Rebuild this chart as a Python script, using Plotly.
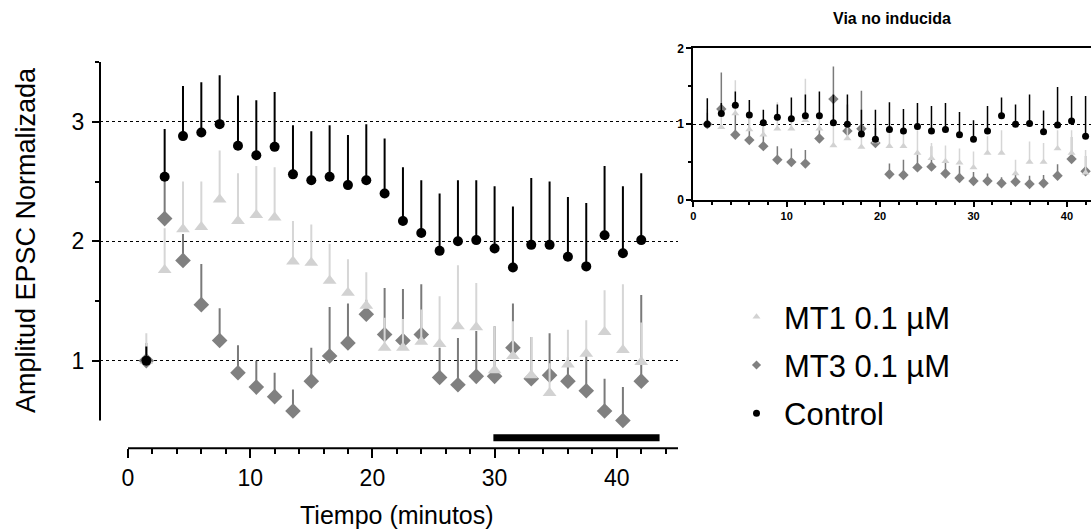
import plotly.graph_objects as go

# ---------------- data ----------------
tiempo = [1.5, 3.0, 4.5, 6.0, 7.5, 9.0, 10.5, 12.0, 13.5, 15.0, 16.5, 18.0, 19.5, 21.0,
          22.5, 24.0, 25.5, 27.0, 28.5, 30.0, 31.5, 33.0, 34.5, 36.0, 37.5, 39.0, 40.5, 42.0]

# Main panel (inducida)
control = [1.00, 2.54, 2.88, 2.91, 2.98, 2.80, 2.72, 2.79, 2.56, 2.51, 2.54, 2.47, 2.51, 2.40,
           2.17, 2.07, 1.92, 2.00, 2.01, 1.94, 1.78, 1.97, 1.97, 1.87, 1.79, 2.05, 1.90, 2.01]
control_err = [0.12, 0.40, 0.42, 0.42, 0.41, 0.42, 0.46, 0.46, 0.41, 0.41, 0.43, 0.42, 0.47, 0.46,
               0.45, 0.44, 0.48, 0.51, 0.50, 0.52, 0.51, 0.56, 0.53, 0.50, 0.53, 0.58, 0.56, 0.56]
mt1 = [1.00, 1.76, 2.10, 2.12, 2.35, 2.17, 2.22, 2.20, 1.83, 1.82, 1.67, 1.57, 1.46, 1.11,
       1.11, 1.16, 1.14, 1.29, 1.28, 0.92, 1.04, 0.88, 0.73, 0.97, 1.06, 1.24, 1.09, 0.99]
mt1_err = [0.23, 0.35, 0.40, 0.38, 0.41, 0.40, 0.41, 0.42, 0.34, 0.32, 0.31, 0.28, 0.28, 0.25,
           0.24, 0.27, 0.40, 0.51, 0.37, 0.37, 0.29, 0.32, 0.25, 0.29, 0.28, 0.35, 0.55, 0.33]
mt3 = [1.00, 2.19, 1.84, 1.47, 1.17, 0.90, 0.78, 0.70, 0.58, 0.83, 1.04, 1.15, 1.39, 1.22,
       1.17, 1.22, 0.86, 0.80, 0.87, 0.87, 1.11, 0.85, 0.88, 0.83, 0.75, 0.58, 0.50, 0.83]
mt3_err = [0.15, 0.35, 0.22, 0.34, 0.27, 0.23, 0.22, 0.20, 0.18, 0.28, 0.41, 0.33, 0.12, 0.39,
           0.43, 0.42, 0.25, 0.39, 0.38, 0.42, 0.37, 0.35, 0.35, 0.20, 0.30, 0.27, 0.28, 0.72]

# Inset (Via no inducida)
control_ni = [1.00, 1.14, 1.25, 1.12, 1.02, 1.09, 1.07, 1.11, 1.11, 1.02, 1.00, 0.87, 0.80, 0.93,
              0.91, 0.97, 0.91, 0.93, 0.86, 0.80, 0.91, 1.11, 1.00, 1.01, 0.90, 0.99, 1.04, 0.84]
control_ni_err = [0.34, 0.14, 0.18, 0.20, 0.17, 0.17, 0.28, 0.28, 0.32, 0.37, 0.39, 0.32, 0.39, 0.36,
                  0.29, 0.31, 0.33, 0.35, 0.30, 0.25, 0.33, 0.24, 0.26, 0.38, 0.28, 0.50, 0.33, 0.53]
mt1_ni = [1.00, 0.96, 1.14, 0.93, 0.86, 0.94, 0.94, 1.05, 0.94, 0.72, 0.81, 0.70, 0.77, 0.71,
          0.71, 0.62, 0.55, 0.51, 0.49, 0.43, 0.62, 0.62, 0.35, 0.50, 0.50, 0.68, 0.62, 0.36]
mt1_ni_err = [0.20, 0.20, 0.44, 0.20, 0.15, 0.35, 0.20, 0.55, 0.20, 0.40, 0.30, 0.30, 0.20, 0.21,
              0.20, 0.30, 0.20, 0.21, 0.19, 0.21, 0.22, 0.30, 0.18, 0.27, 0.25, 0.24, 0.30, 0.30]
mt3_ni = [1.00, 1.20, 0.86, 0.79, 0.71, 0.53, 0.50, 0.48, 0.81, 1.33, 0.91, 0.94, 0.75, 0.34,
          0.33, 0.43, 0.44, 0.35, 0.29, 0.25, 0.25, 0.22, 0.24, 0.21, 0.22, 0.32, 0.54, 0.38]
mt3_ni_err = [0.15, 0.48, 0.30, 0.30, 0.25, 0.18, 0.18, 0.18, 0.15, 0.43, 0.35, 0.50, 0.20, 0.14,
              0.20, 0.17, 0.27, 0.15, 0.16, 0.12, 0.10, 0.08, 0.11, 0.11, 0.11, 0.15, 0.29, 0.20]

series_names = ["MT1 0.1 \u00b5M", "MT3 0.1 \u00b5M", "Control"]
main_xticks = [0, 10, 20, 30, 40]
main_xminor = list(range(0, 45, 2))
main_yticks = [1, 2, 3]
main_yminor = [1.5, 2.5, 3.5]
inset_xticks = [0, 10, 20, 30, 40]
inset_xminor = list(range(0, 43, 2))
inset_yticks = [0, 1, 2]
inset_yminor = [0.5, 1.5]
bar_start, bar_end = 29.9, 43.5   # drug application (minutes)

# ---------------- styles ----------------
W, H = 1091, 531
FONT = "Arial, 'Liberation Sans', sans-serif"
C_CTRL = "#000000"
C_MT3 = "#808080"
C_MT3_ERR = "#7a7a7a"
C_MT1 = "#d2d2d2"
C_MT1_ERR = "#d6d6d6"


def px_x(p):
    return p / W


def px_y(p):
    return (H - p) / H


def err(arr, color, thick):
    return dict(type="data", symmetric=False, array=arr, arrayminus=[0] * len(arr),
                width=0, thickness=thick, color=color, visible=True)


fig = go.Figure()

# main panel: MT3 below, MT1 above, Control on top
fig.add_trace(go.Scatter(x=tiempo, y=mt3, mode="markers", name=series_names[1], showlegend=False,
                         marker=dict(symbol="diamond", size=12, color=C_MT3, line=dict(width=0)),
                         error_y=err(mt3_err, C_MT3_ERR, 2), xaxis="x", yaxis="y", cliponaxis=False))
fig.add_trace(go.Scatter(x=tiempo, y=mt1, mode="markers", name=series_names[0], showlegend=False,
                         marker=dict(symbol="triangle-up", size=12, color=C_MT1, line=dict(width=0)),
                         error_y=err(mt1_err, C_MT1_ERR, 2), xaxis="x", yaxis="y", cliponaxis=False))
fig.add_trace(go.Scatter(x=tiempo, y=control, mode="markers", name=series_names[2], showlegend=False,
                         marker=dict(symbol="circle", size=10, color=C_CTRL, line=dict(width=0)),
                         error_y=err(control_err, C_CTRL, 2), xaxis="x", yaxis="y", cliponaxis=False))

# inset
fig.add_trace(go.Scatter(x=tiempo, y=mt3_ni, mode="markers", showlegend=False,
                         marker=dict(symbol="diamond", size=8, color=C_MT3, line=dict(width=0)),
                         error_y=err(mt3_ni_err, C_MT3_ERR, 1.5), xaxis="x2", yaxis="y2", cliponaxis=False))
fig.add_trace(go.Scatter(x=tiempo, y=mt1_ni, mode="markers", showlegend=False,
                         marker=dict(symbol="triangle-up", size=7, color=C_MT1, line=dict(width=0)),
                         error_y=err(mt1_ni_err, C_MT1_ERR, 1.5), xaxis="x2", yaxis="y2", cliponaxis=False))
fig.add_trace(go.Scatter(x=tiempo, y=control_ni, mode="markers", showlegend=False,
                         marker=dict(symbol="circle", size=7, color=C_CTRL, line=dict(width=0)),
                         error_y=err(control_ni_err, C_CTRL, 1.5), xaxis="x2", yaxis="y2", cliponaxis=False))

# legend-only entries
leg_specs = [(series_names[0], "triangle-up", C_MT1), (series_names[1], "diamond", C_MT3),
             (series_names[2], "circle", C_CTRL)]
for i, (nm, sym, col) in enumerate(leg_specs):
    fig.add_trace(go.Scatter(x=[None], y=[None], mode="markers", name=nm, legendgroup=nm,
                             legendrank=i + 1,
                             marker=dict(symbol=sym, size=7, color=col, line=dict(width=0)),
                             xaxis="x", yaxis="y"))

fig.update_layout(
    width=W, height=H, autosize=False,
    margin=dict(l=0, r=0, t=0, b=0, pad=0, autoexpand=False),
    paper_bgcolor="white", plot_bgcolor="white",
    font=dict(family=FONT, color="black"),
    showlegend=True,
    legend=dict(x=px_x(729), y=px_y(290), xanchor="left", yanchor="top",
                font=dict(size=31, family=FONT, color="black"),
                tracegroupgap=5, bgcolor="rgba(0,0,0,0)", borderwidth=0,
                itemsizing="trace", itemwidth=45),
    xaxis=dict(domain=[px_x(100), px_x(678)], range=[(100 - 128) / 12.22, (678 - 128) / 12.22],
               showline=False, zeroline=False, showgrid=False, automargin=False,
               tickmode="array", tickvals=main_xticks, ticks="outside", ticklen=9, tickwidth=2,
               tickcolor="black", tickfont=dict(size=23, family=FONT, color="black"),
               minor=dict(tickmode="array", tickvals=main_xminor, ticks="outside", ticklen=5,
                          tickwidth=2, tickcolor="black", showgrid=False),
               anchor="y", fixedrange=True),
    yaxis=dict(domain=[px_y(448.3), px_y(62)], range=[0.268, 3.5],
               showline=False, zeroline=False, showgrid=True, griddash="dot",
               gridcolor="black", gridwidth=1.2, automargin=False,
               tickmode="array", tickvals=main_yticks, ticks="outside", ticklen=7, tickwidth=2,
               tickcolor="black", tickfont=dict(size=23, family=FONT, color="black"),
               ticklabelstandoff=3,
               minor=dict(tickmode="array", tickvals=main_yminor, ticks="outside", ticklen=4,
                          tickwidth=2, tickcolor="black", showgrid=False),
               anchor="x", fixedrange=True),
    xaxis2=dict(domain=[px_x(693.3), 1.0], range=[0, (W - 693.3) / 9.34],
                showline=True, linecolor="black", linewidth=2, mirror=True,
                zeroline=False, showgrid=False, automargin=False,
                tickmode="array", tickvals=inset_xticks, ticks="outside", ticklen=5, tickwidth=1.5,
                tickcolor="black", tickfont=dict(size=11, family=FONT, color="black", weight="bold"),
                minor=dict(tickmode="array", tickvals=inset_xminor, ticks="outside", ticklen=3,
                           tickwidth=1.5, tickcolor="black", showgrid=False),
                anchor="y2", fixedrange=True),
    yaxis2=dict(domain=[px_y(200), px_y(48.3)], range=[0, 2],
                showline=True, linecolor="black", linewidth=2,
                zeroline=False, showgrid=True, griddash="dot", gridcolor="black", gridwidth=1.2,
                automargin=False,
                tickmode="array", tickvals=inset_yticks, ticks="outside", ticklen=5, tickwidth=1.5,
                tickcolor="black", tickfont=dict(size=12, family=FONT, color="black", weight="bold"),
                minor=dict(tickmode="array", tickvals=inset_yminor, ticks="outside", ticklen=3,
                           tickwidth=1.5, tickcolor="black", showgrid=False),
                anchor="x2", fixedrange=True),
)

# axis lines (detached, Prism style) and drug bar
fig.add_shape(type="line", xref="x", yref="y domain", x0=0, x1=(678 - 128) / 12.22, y0=0, y1=0,
              line=dict(color="black", width=2))
fig.add_shape(type="line", xref="x domain", yref="y", x0=0, x1=0, y0=0.5, y1=3.5,
              line=dict(color="black", width=2))
fig.add_shape(type="line", xref="x", yref="y", x0=bar_start, x1=bar_end, y0=0.356, y1=0.356,
              line=dict(color="black", width=7))

# titles
fig.add_annotation(text="Amplitud EPSC Normalizada", xref="paper", yref="paper",
                   x=px_x(26), y=px_y(240), textangle=-90, showarrow=False,
                   font=dict(size=27, family=FONT, color="black"), xanchor="center", yanchor="middle")
fig.add_annotation(text="Tiempo (minutos)", xref="paper", yref="paper",
                   x=px_x(397), y=px_y(515), showarrow=False,
                   font=dict(size=25, family=FONT, color="black"), xanchor="center", yanchor="middle")
fig.add_annotation(text="<b>Via no inducida</b>", xref="paper", yref="paper",
                   x=px_x(892), y=px_y(18), showarrow=False,
                   font=dict(size=16, family=FONT, color="black"), xanchor="center", yanchor="middle")

fig.write_html("out.html")
